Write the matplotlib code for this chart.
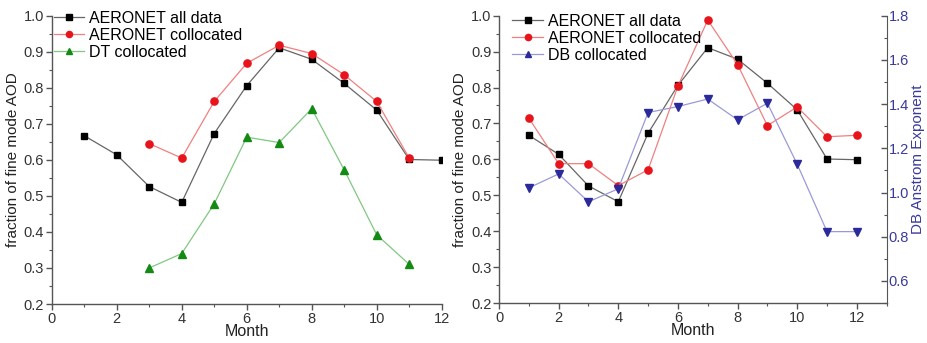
import matplotlib
matplotlib.use("Agg")
import matplotlib.pyplot as plt
from matplotlib.lines import Line2D
from matplotlib.ticker import MultipleLocator

plt.rcParams['font.family'] = ['Liberation Sans', 'DejaVu Sans']

# monthly fine-mode fraction, left panel (DT)
months = [1, 2, 3, 4, 5, 6, 7, 8, 9, 10, 11, 12]
aeronet_all = [0.667, 0.614, 0.526, 0.482, 0.673, 0.806, 0.911, 0.879, 0.812, 0.738, 0.601, 0.599]
dt_months = [3, 4, 5, 6, 7, 8, 9, 10, 11]
aeronet_col_dt = [0.645, 0.605, 0.762, 0.868, 0.918, 0.895, 0.836, 0.762, 0.605]
dt_col = [0.300, 0.340, 0.478, 0.663, 0.648, 0.742, 0.572, 0.392, 0.310]

# right panel (DB)
aeronet_col_db = [0.715, 0.588, 0.588, 0.527, 0.571, 0.804, 0.988, 0.864, 0.694, 0.746, 0.663, 0.667]
db_angstrom = [1.021, 1.084, 0.958, 1.017, 1.362, 1.389, 1.423, 1.329, 1.404, 1.128, 0.823, 0.823]

spine_c = '#555555'
blue_txt = '#3a3a9a'

fig = plt.figure(figsize=(9.27, 3.43), dpi=100)
ax1 = fig.add_axes([0.0558, 0.1137, 0.4207, 0.8405])
ax2 = fig.add_axes([0.5383, 0.1166, 0.4182, 0.8376])


def style_axis(ax, xmax):
    ax.set_xlim(0, xmax)
    ax.set_ylim(0.2, 1.0)
    ax.xaxis.set_major_locator(MultipleLocator(2))
    ax.xaxis.set_minor_locator(MultipleLocator(1))
    ax.yaxis.set_major_locator(MultipleLocator(0.1))
    ax.yaxis.set_minor_locator(MultipleLocator(0.05))
    ax.yaxis.set_major_formatter(plt.FormatStrFormatter('%.1f'))
    ax.spines['top'].set_visible(False)
    ax.spines['right'].set_visible(False)
    for s in ['left', 'bottom']:
        ax.spines[s].set_color(spine_c)
        ax.spines[s].set_linewidth(1.0)
    ax.tick_params(which='major', direction='out', length=4, width=1.0,
                   color=spine_c, labelsize=10.5, labelcolor='#333333', pad=1.5)
    ax.tick_params(which='minor', direction='out', length=2.5, width=0.8, color=spine_c)
    ax.set_xlabel('Month', fontsize=11.5, labelpad=-1, color='#222222')
    ax.set_ylabel('fraction of fine mode AOD', fontsize=11, labelpad=3, color='#222222')


leg_kw = dict(loc='upper left', frameon=False, fontsize=11.5, handlelength=1.9,
              handletextpad=0.3, labelspacing=0.12, borderaxespad=0.2)

# left panel
style_axis(ax1, 12)
ax1.plot(months, aeronet_all, color='#666666', lw=0.9, marker='s', ms=4.8,
         mfc='black', mec='black', label='AERONET all data')
ax1.plot(dt_months, aeronet_col_dt, color='#f08080', lw=0.9, marker='o', ms=5.2,
         mfc='#e8141c', mec='#e8141c', label='AERONET collocated')
ax1.plot(dt_months, dt_col, color='#80c880', lw=0.9, marker='^', ms=5.5,
         mfc='#138a13', mec='#138a13', label='DT collocated')
ax1.legend(bbox_to_anchor=(-0.02, 1.05), markerscale=0.85, **leg_kw)

# right panel
style_axis(ax2, 13)
ax2.plot(months, aeronet_all, color='#666666', lw=0.9, marker='s', ms=4.8,
         mfc='black', mec='black', zorder=3)
ax2.plot(months, aeronet_col_db, color='#f08080', lw=0.9, marker='o', ms=5.2,
         mfc='#e8141c', mec='#e8141c', zorder=3)

ax3 = ax2.twinx()
ax3.set_ylim(0.5, 1.8)
ax3.plot(months, db_angstrom, color='#9a9ad8', lw=0.9, marker='v', ms=5.5,
         mfc='#2a2a9a', mec='#2a2a9a')
ax3.yaxis.set_major_locator(MultipleLocator(0.2))
ax3.yaxis.set_minor_locator(MultipleLocator(0.1))
ax3.yaxis.set_major_formatter(plt.FormatStrFormatter('%.1f'))
for s in ['top', 'left', 'bottom']:
    ax3.spines[s].set_visible(False)
ax3.spines['right'].set_color(spine_c)
ax3.tick_params(which='major', direction='in', length=4, width=1.0,
                color=spine_c, labelsize=10.5, labelcolor=blue_txt, pad=1.5)
ax3.tick_params(which='minor', direction='in', length=2.5, width=0.8, color=spine_c)
ax3.set_ylabel('DB Anstrom Exponent', fontsize=11, color=blue_txt, labelpad=1)

handles = [
    Line2D([], [], color='#666666', lw=0.9, marker='s', ms=4, mfc='black', mec='black'),
    Line2D([], [], color='#f08080', lw=0.9, marker='o', ms=4.5, mfc='#e8141c', mec='#e8141c'),
    Line2D([], [], color='#9a9ad8', lw=0.9, marker='^', ms=4.5, mfc='#2a2a9a', mec='#2a2a9a'),
]
ax2.legend(handles, ['AERONET all data', 'AERONET collocated', 'DB collocated'],
           bbox_to_anchor=(0.01, 1.04), **leg_kw)

fig.savefig('out.png', dpi=100)
